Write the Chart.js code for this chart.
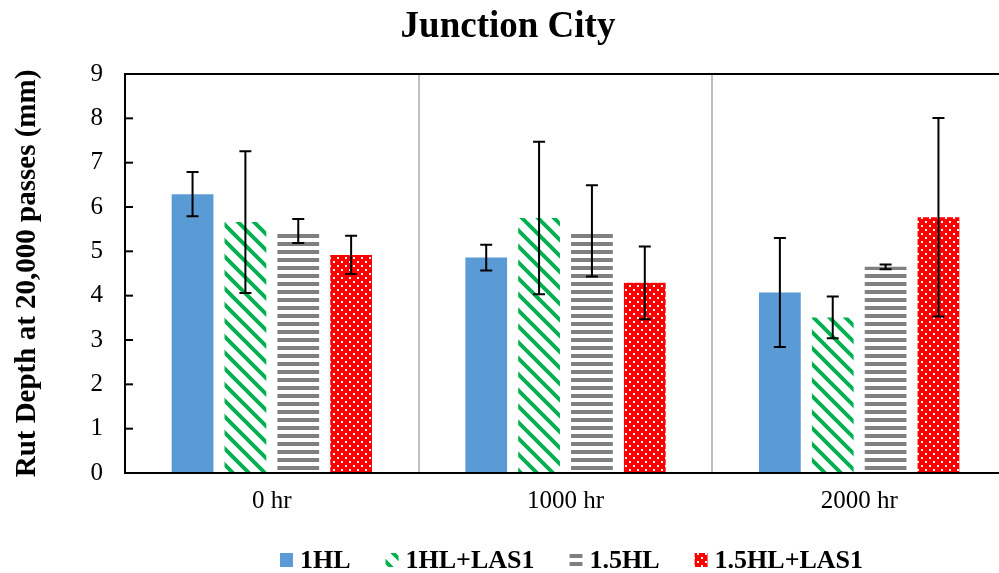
<!DOCTYPE html>
<html>
<head>
<meta charset="utf-8">
<title>Junction City</title>
<script src="https://cdn.jsdelivr.net/npm/chart.js@4.4.1/dist/chart.umd.min.js"></script>
<style>
  html, body { margin: 0; padding: 0; background: #fff; overflow: hidden; }
  #chart { display: block; }
</style>
</head>
<body>
<canvas id="chart" width="1006" height="573"></canvas>
<script>
const categories = ['0 hr', '1000 hr', '2000 hr']
const seriesNames = ['1HL', '1HL+LAS1', '1.5HL', '1.5HL+LAS1']

const hl1 = [6.29, 4.86, 4.07]
const hl1Err = [0.5, 0.29, 1.23]
const hl1Las = [5.66, 5.75, 3.51]
const hl1LasErr = [1.6, 1.72, 0.47]
const hl15 = [5.46, 5.46, 4.65]
const hl15Err = [0.27, 1.03, 0.055]
const hl15Las = [4.92, 4.29, 5.77]
const hl15LasErr = [0.43, 0.82, 2.24]

const yMin = 0
const yMax = 9
const yStep = 1

const serif = '"Liberation Serif", "Times New Roman", serif'
Chart.defaults.font.family = serif
Chart.defaults.color = '#000'

function tile(size, draw) {
  const c = document.createElement('canvas')
  c.width = size
  c.height = size
  const g = c.getContext('2d')
  draw(g, size)
  return g.createPattern(c, 'repeat')
}

const greenDiag = tile(16, (g, s) => {
  g.fillStyle = '#fff'
  g.fillRect(0, 0, s, s)
  g.strokeStyle = '#00B050'
  g.lineWidth = 4
  for (const k of [-s, 0, s]) {
    g.beginPath()
    g.moveTo(k - 2, -2)
    g.lineTo(k + s + 2, s + 2)
    g.stroke()
  }
})

const grayLines = tile(8, (g, s) => {
  g.fillStyle = '#fff'
  g.fillRect(0, 0, s, s)
  g.fillStyle = '#808080'
  g.fillRect(0, 2, s, 4)
})

const redDots = tile(8, (g, s) => {
  g.fillStyle = '#FF0000'
  g.fillRect(0, 0, s, s)
  g.fillStyle = '#fff'
  g.fillRect(1, 1, 2, 2)
  g.fillRect(5, 5, 2, 2)
})

const errorBars = {
  id: 'errorBars',
  afterDatasetsDraw(chart) {
    const { ctx } = chart
    const y = chart.scales.y
    ctx.save()
    ctx.strokeStyle = '#000'
    ctx.lineWidth = 2
    chart.data.datasets.forEach((ds, i) => {
      chart.getDatasetMeta(i).data.forEach((bar, j) => {
        const top = y.getPixelForValue(ds.data[j] + ds.errors[j])
        const bot = y.getPixelForValue(ds.data[j] - ds.errors[j])
        ctx.beginPath()
        ctx.moveTo(bar.x, top)
        ctx.lineTo(bar.x, bot)
        ctx.moveTo(bar.x - 6, top)
        ctx.lineTo(bar.x + 6, top)
        ctx.moveTo(bar.x - 6, bot)
        ctx.lineTo(bar.x + 6, bot)
        ctx.stroke()
      })
    })
    // inward tick marks on the value axis
    y.ticks.forEach((t) => {
      const py = y.getPixelForValue(t.value)
      ctx.beginPath()
      ctx.moveTo(chart.chartArea.left, py)
      ctx.lineTo(chart.chartArea.left + 8, py)
      ctx.stroke()
    })
    ctx.restore()
  },
}

const bottomLegend = {
  id: 'bottomLegend',
  afterDraw(chart) {
    const { ctx, chartArea } = chart
    const boxW = 13
    const boxH = 14
    const gap = 7
    const spacing = 35
    ctx.save()
    ctx.font = 'bold 26px ' + serif
    ctx.textBaseline = 'middle'
    const widths = chart.data.datasets.map((ds) => ctx.measureText(ds.label).width)
    const total = widths.reduce((a, w) => a + boxW + gap + w, 0) + spacing * (widths.length - 1)
    let x = (chartArea.left + chartArea.right) / 2 + 6 - total / 2
    const cy = 560
    chart.data.datasets.forEach((ds, i) => {
      ctx.fillStyle = ds.backgroundColor
      ctx.fillRect(x, cy - boxH / 2, boxW, boxH)
      ctx.fillStyle = '#000'
      ctx.fillText(ds.label, x + boxW + gap, cy + 1)
      x += boxW + gap + widths[i] + spacing
    })
    ctx.restore()
  },
}

const values = [hl1, hl1Las, hl15, hl15Las]
const errors = [hl1Err, hl1LasErr, hl15Err, hl15LasErr]
const fills = ['#5B9BD5', greenDiag, grayLines, redDots]

new Chart(document.getElementById('chart'), {
  type: 'bar',
  data: {
    labels: categories,
    datasets: seriesNames.map((name, i) => ({
      label: name,
      data: values[i],
      errors: errors[i],
      backgroundColor: fills[i],
      borderWidth: 0,
      categoryPercentage: 0.72,
      barPercentage: 0.79,
    })),
  },
  options: {
    responsive: false,
    animation: false,
    layout: { padding: { left: 10, right: 0, top: 0, bottom: 40 } },
    plugins: {
      legend: { display: false },
      tooltip: { enabled: false },
      title: {
        display: true,
        text: 'Junction City',
        color: '#000',
        font: { size: 37, weight: 'bold' },
        padding: { top: 5, bottom: 24.6 },
      },
    },
    scales: {
      x: {
        grid: { offset: true, color: '#BFBFBF', lineWidth: 2, drawTicks: false },
        border: { color: '#000', width: 2 },
        ticks: { font: { size: 25 }, color: '#000', padding: 13 },
        afterFit(s) {
          s.height = 60
        },
      },
      y: {
        min: yMin,
        max: yMax,
        ticks: { stepSize: yStep, font: { size: 25 }, color: '#000', padding: 22 },
        grid: {
          color: (c) => (c.tick && c.tick.value === yMax ? '#000' : 'rgba(0,0,0,0)'),
          lineWidth: 2,
          drawTicks: false,
        },
        border: { color: '#000', width: 2 },
        title: {
          display: true,
          text: 'Rut Depth at 20,000 passes (mm)',
          color: '#000',
          font: { size: 29, weight: 'bold' },
          padding: { top: 0, bottom: 0 },
        },
        afterFit(s) {
          s.width = 115
        },
      },
    },
  },
  plugins: [errorBars, bottomLegend],
})
</script>
</body>
</html>
